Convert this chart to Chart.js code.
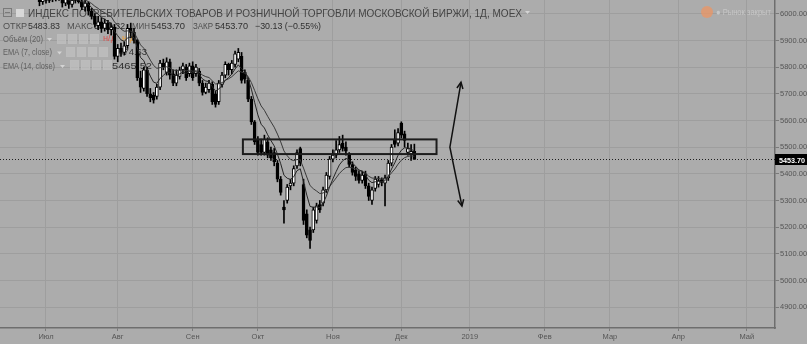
<!DOCTYPE html>
<html>
<head>
<meta charset="utf-8">
<script src="https://cdn.jsdelivr.net/npm/chart.js@4.4.1/dist/chart.umd.min.js"></script>
<style>
    html, body { margin: 0; padding: 0; background: #acacac; overflow: hidden; }
    canvas { display: block; }
</style>
</head>
<body>
<canvas id="chart" width="807" height="344"></canvas>
<script>
// daily bars, bar 0 = first trading day of July 2018
const firstBar = -14;
const opens = [6090, 6110, 6095, 6115, 6100, 6085, 6105, 6090, 6075, 6095, 6080, 6070, 6060, 6045,
    6060, 6050, 6065, 6055, 6070, 6060, 6040, 6055, 6035, 6050, 6060, 6045, 6025, 6040, 6010, 5990,
    5955, 5970, 5945, 5965, 5940, 5950, 5840, 5870, 5855, 5880, 5945, 5930, 5900, 5760, 5720, 5790,
    5700, 5695, 5690, 5725, 5815, 5780, 5820, 5775, 5740, 5765, 5790, 5800, 5775, 5805, 5775, 5785,
    5740, 5705, 5715, 5735, 5700, 5670, 5735, 5770, 5810, 5790, 5810, 5830, 5840, 5780, 5750, 5680,
    5595, 5530, 5510, 5480, 5520, 5490, 5480, 5440, 5380, 5275, 5300, 5355, 5365, 5430, 5495, 5360,
    5250, 5190, 5190, 5225, 5285, 5290, 5340, 5390, 5455, 5470, 5490, 5515, 5500, 5470, 5435, 5415,
    5400, 5375, 5400, 5355, 5300, 5345, 5360, 5378, 5365, 5385, 5440, 5530, 5515, 5590, 5550, 5480,
    5475, 5483.83];
const closes = [6110, 6095, 6115, 6100, 6085, 6105, 6090, 6075, 6095, 6080, 6070, 6062, 6045, 6060,
    6050, 6065, 6055, 6070, 6060, 6040, 6055, 6035, 6050, 6060, 6045, 6025, 6040, 6010, 5990, 5960,
    5970, 5945, 5965, 5940, 5950, 5840, 5870, 5855, 5880, 5945, 5930, 5900, 5760, 5725, 5790, 5700,
    5685, 5676, 5725, 5815, 5800, 5820, 5770, 5740, 5770, 5790, 5805, 5760, 5805, 5760, 5800, 5740,
    5705, 5725, 5740, 5670, 5660, 5740, 5770, 5810, 5790, 5815, 5850, 5855, 5750, 5755, 5680, 5595,
    5520, 5480, 5480, 5530, 5470, 5460, 5445, 5380, 5330, 5265, 5350, 5365, 5420, 5480, 5440, 5225,
    5170, 5150, 5265, 5280, 5265, 5340, 5395, 5455, 5470, 5490, 5510, 5495, 5485, 5435, 5405, 5390,
    5375, 5395, 5355, 5315, 5340, 5380, 5375, 5368, 5385, 5440, 5500, 5510, 5555, 5545, 5525, 5495,
    5483.83, 5453.70];
const highs = [6125, 6120, 6130, 6125, 6110, 6115, 6112, 6100, 6105, 6100, 6090, 6085, 6070, 6075,
    6075, 6080, 6085, 6085, 6080, 6070, 6065, 6065, 6060, 6075, 6070, 6055, 6050, 6045, 6020, 6000,
    5990, 5985, 5980, 5975, 5965, 5960, 5885, 5890, 5895, 5960, 5965, 5945, 5905, 5785, 5800, 5800,
    5720, 5705, 5735, 5825, 5830, 5835, 5830, 5790, 5790, 5800, 5815, 5810, 5815, 5820, 5810, 5795,
    5750, 5740, 5750, 5745, 5710, 5750, 5780, 5820, 5815, 5825, 5860, 5870, 5855, 5790, 5760, 5690,
    5600, 5540, 5530, 5545, 5535, 5500, 5495, 5450, 5390, 5300, 5360, 5380, 5430, 5490, 5500, 5380,
    5265, 5200, 5275, 5290, 5300, 5350, 5405, 5465, 5490, 5525, 5540, 5545, 5520, 5480, 5445, 5425,
    5410, 5410, 5410, 5365, 5350, 5390, 5390, 5385, 5395, 5450, 5510, 5565, 5570, 5595, 5560, 5515,
    5510, 5511.32];
const lows = [6080, 6085, 6088, 6090, 6075, 6078, 6080, 6068, 6066, 6070, 6062, 6056, 6030, 6035,
    6040, 6042, 6045, 6048, 6050, 6025, 6030, 6020, 6025, 6040, 6040, 6015, 6010, 5995, 5980, 5950,
    5940, 5930, 5935, 5925, 5920, 5830, 5820, 5840, 5845, 5870, 5910, 5890, 5750, 5705, 5710, 5690,
    5670, 5665, 5680, 5715, 5790, 5770, 5755, 5730, 5730, 5755, 5775, 5750, 5765, 5750, 5765, 5730,
    5695, 5700, 5705, 5660, 5650, 5660, 5725, 5760, 5770, 5775, 5800, 5820, 5740, 5740, 5670, 5585,
    5510, 5470, 5470, 5470, 5460, 5450, 5430, 5370, 5320, 5215, 5290, 5340, 5355, 5420, 5430, 5210,
    5160, 5120, 5180, 5215, 5255, 5280, 5330, 5380, 5445, 5460, 5480, 5485, 5470, 5425, 5395, 5375,
    5365, 5365, 5345, 5300, 5285, 5335, 5350, 5355, 5280, 5375, 5430, 5500, 5505, 5535, 5500, 5470,
    5450, 5453.70];

const monthStartBars = [0, 22, 45, 65, 88, 109, 130, 153, 173, 194, 215];
const monthLabels = ['Июл', 'Авг', 'Сен', 'Окт', 'Ноя', 'Дек', '2019', 'Фев', 'Мар', 'Апр', 'Май'];
const priceTicks = [4900, 5000, 5100, 5200, 5300, 5400, 5500, 5600, 5700, 5800, 5900, 6000];

// drawings on the chart, in bar / price units
const zoneBars = [60.4, 119.8];
const zonePrices = [5474, 5529];
const arrowBars = [127.3, 123.9, 127.6];
const arrowPrices = [5743, 5500, 5279];

const ema = function (values, n) {
    const k = 2 / (n + 1);
    let prev = values[0];
    return values.map(v => (prev = v * k + prev * (1 - k)));
};

const ema7 = ema(closes, 7);
const ema14 = ema(closes, 14);
const lastClose = closes[closes.length - 1];

const bodyData = opens.map((o, k) => ({ x: firstBar + k, y: [o, closes[k]] }));
const wickData = lows.map((l, k) => ({ x: firstBar + k, y: [l, highs[k]] }));
const bodyColors = opens.map((o, k) => closes[k] >= o ? '#ffffff' : '#000000');

const fitText = function (ctx, text, x, y, w, size, color, weight) {
    ctx.save();
    ctx.font = (weight || 'normal') + ' ' + size + 'px "Liberation Sans", Arial, sans-serif';
    const m = ctx.measureText(text).width;
    ctx.translate(x, y);
    ctx.scale(w / m, 1);
    ctx.fillStyle = color;
    ctx.textBaseline = 'alphabetic';
    ctx.textAlign = 'left';
    ctx.fillText(text, 0, 0);
    ctx.restore();
};

const iconBoxes = function (ctx, x, y) {
    for (let n = 0; n < 4; n++) {
        ctx.fillStyle = 'rgba(196,196,196,0.6)';
        ctx.fillRect(x + n * 11, y, 9, 10);
        ctx.strokeStyle = '#bcbcbc';
        ctx.lineWidth = 1;
        ctx.strokeRect(x + n * 11 + 0.5, y + 0.5, 8, 9);
    }
};

const dropArrow = function (ctx, x, y) {
    ctx.fillStyle = '#d4d4d4';
    ctx.beginPath();
    ctx.moveTo(x, y);
    ctx.lineTo(x + 5, y);
    ctx.lineTo(x + 2.5, y + 3);
    ctx.closePath();
    ctx.fill();
};

const backgroundPlugin = {
    id: 'background',
    beforeDraw(chart) {
        const ctx = chart.ctx;
        ctx.save();
        ctx.fillStyle = '#acacac';
        ctx.fillRect(0, 0, chart.width, chart.height);
        ctx.restore();
    }
};

const legendPlugin = {
    id: 'tvLegend',
    beforeDatasetsDraw(chart) {
        const ctx = chart.ctx;
        ctx.save();
        // header icons
        ctx.strokeStyle = '#7a7a7a';
        ctx.lineWidth = 1;
        ctx.strokeRect(3.5, 8.5, 8, 8);
        ctx.beginPath();
        ctx.moveTo(5, 12.5);
        ctx.lineTo(10, 12.5);
        ctx.stroke();
        ctx.fillStyle = '#d8d8d8';
        ctx.fillRect(16, 9, 8, 8);

        fitText(ctx, 'ИНДЕКС ПОТРЕБИТЕЛЬСКИХ ТОВАРОВ И РОЗНИЧНОЙ ТОРГОВЛИ МОСКОВСКОЙ БИРЖИ, 1Д, MOEX', 28, 17, 494, 11, '#444444');
        dropArrow(ctx, 525, 11);

        fitText(ctx, 'ОТКР', 3, 28.5, 24, 9, '#505050');
        fitText(ctx, '5483.83', 28, 28.5, 32, 9, '#303030');
        fitText(ctx, 'МАКС', 67, 28.5, 26, 9, '#505050');
        fitText(ctx, '5511.32', 94, 28.5, 31, 9, '#303030');
        fitText(ctx, 'МИН', 132, 28.5, 18, 9, '#505050');
        fitText(ctx, '5453.70', 151, 28.5, 34, 9, '#303030');
        fitText(ctx, 'ЗАКР', 193, 28.5, 20, 9, '#505050');
        fitText(ctx, '5453.70', 215, 28.5, 33, 9, '#303030');
        fitText(ctx, '−30.13 (−0.55%)', 255, 28.5, 66, 9, '#303030');

        fitText(ctx, 'Объём (20)', 3, 41.5, 40, 9, '#606060');
        dropArrow(ctx, 47, 38);
        iconBoxes(ctx, 57, 34);
        fitText(ctx, 'н/д', 103, 41, 13, 9, '#d9534f');
        fitText(ctx, 'н/д', 122, 41, 13, 9, '#f0a030');

        fitText(ctx, 'EMA (7, close)', 3, 55, 49, 9, '#606060');
        dropArrow(ctx, 57, 51.5);
        iconBoxes(ctx, 66, 47);
        fitText(ctx, '5474.63', 113, 55, 34, 9, '#303030');

        fitText(ctx, 'EMA (14, close)', 3, 68.5, 52, 9, '#606060');
        dropArrow(ctx, 60, 65);
        iconBoxes(ctx, 70, 60);
        fitText(ctx, '5465.52', 112, 68.5, 40, 9, '#303030');

        // market status
        ctx.fillStyle = 'rgba(236,150,100,0.75)';
        ctx.beginPath();
        ctx.arc(707, 12, 6, 0, Math.PI * 2);
        ctx.fill();
        fitText(ctx, '● Рынок закрыт', 716, 15, 55, 8.5, '#c6c6c6');
        ctx.restore();
    }
};

const drawingsPlugin = {
    id: 'tvDrawings',
    afterDatasetsDraw(chart) {
        const ctx = chart.ctx;
        const xs = chart.scales.x;
        const ys = chart.scales.y;
        const area = chart.chartArea;
        ctx.save();

        // horizontal zone
        const x1 = xs.getPixelForValue(zoneBars[0]);
        const x2 = xs.getPixelForValue(zoneBars[1]);
        const y1 = ys.getPixelForValue(zonePrices[1]);
        const y2 = ys.getPixelForValue(zonePrices[0]);
        ctx.strokeStyle = '#1c1c1c';
        ctx.lineWidth = 2;
        ctx.strokeRect(x1, y1, x2 - x1, y2 - y1);

        // up / down arrows
        const pts = arrowBars.map((b, k) => [xs.getPixelForValue(b), ys.getPixelForValue(arrowPrices[k])]);
        ctx.lineWidth = 1.5;
        ctx.strokeStyle = '#111';
        ctx.beginPath();
        ctx.moveTo(pts[0][0], pts[0][1]);
        ctx.lineTo(pts[1][0], pts[1][1]);
        ctx.lineTo(pts[2][0], pts[2][1]);
        ctx.stroke();
        const head = function (from, to) {
            const a = Math.atan2(to[1] - from[1], to[0] - from[0]);
            ctx.beginPath();
            ctx.moveTo(to[0] - 7 * Math.cos(a - 0.45), to[1] - 7 * Math.sin(a - 0.45));
            ctx.lineTo(to[0], to[1]);
            ctx.lineTo(to[0] - 7 * Math.cos(a + 0.45), to[1] - 7 * Math.sin(a + 0.45));
            ctx.stroke();
        };
        head(pts[1], pts[0]);
        head(pts[1], pts[2]);

        // last price line
        const py = Math.round(ys.getPixelForValue(lastClose)) + 0.5;
        ctx.lineWidth = 1;
        ctx.strokeStyle = '#202020';
        ctx.setLineDash([1, 2]);
        ctx.beginPath();
        ctx.moveTo(area.left, py);
        ctx.lineTo(area.right, py);
        ctx.stroke();
        ctx.setLineDash([]);
        ctx.restore();
    },
    afterDraw(chart) {
        const ctx = chart.ctx;
        const ys = chart.scales.y;
        const area = chart.chartArea;
        const py = Math.round(ys.getPixelForValue(lastClose));
        ctx.save();
        ctx.fillStyle = '#000';
        ctx.fillRect(area.right, py - 5, chart.width - area.right, 11);
        fitText(ctx, lastClose.toFixed(2), area.right + 4, py + 3.5, 26, 8, '#ffffff', 'bold');
        ctx.restore();
    }
};

new Chart(document.getElementById('chart'), {
    type: 'bar',
    data: {
        datasets: [
            {
                type: 'line',
                data: ema7.map((v, k) => ({ x: firstBar + k, y: v })),
                borderColor: '#262626',
                borderWidth: 1,
                pointRadius: 0,
                tension: 0,
                order: 0
            },
            {
                type: 'line',
                data: ema14.map((v, k) => ({ x: firstBar + k, y: v })),
                borderColor: '#3a3a3a',
                borderWidth: 1,
                pointRadius: 0,
                tension: 0,
                order: 1
            },
            {
                data: bodyData,
                backgroundColor: bodyColors,
                borderColor: '#000',
                borderWidth: 1,
                borderSkipped: false,
                barThickness: 3,
                grouped: false,
                order: 2
            },
            {
                data: wickData,
                backgroundColor: '#000',
                barThickness: 1,
                grouped: false,
                order: 3
            }
        ]
    },
    options: {
        responsive: false,
        animation: false,
        devicePixelRatio: 1,
        layout: { padding: 0 },
        plugins: {
            legend: { display: false },
            tooltip: { enabled: false }
        },
        scales: {
            x: {
                type: 'linear',
                min: -14.11,
                max: 223.63,
                offset: false,
                grid: { color: '#9e9e9e', offset: false, tickLength: 3, tickColor: '#7a7a7a' },
                border: { color: '#6e6e6e', width: 1.5 },
                ticks: {
                    autoSkip: false,
                    maxRotation: 0,
                    padding: 1,
                    color: '#555',
                    font: { family: '"Liberation Sans", Arial, sans-serif', size: 7.5 },
                    callback: (v, i) => monthLabels[i]
                },
                afterBuildTicks: s => { s.ticks = monthStartBars.map(v => ({ value: v })); },
                afterFit: s => {
                    s.height = 16;
                    s.paddingLeft = 0;
                    s.paddingRight = 0;
                }
            },
            y: {
                position: 'right',
                min: 4822,
                max: 6051.6,
                grid: { color: '#9e9e9e', tickLength: 4, tickColor: '#7a7a7a' },
                border: { color: '#6e6e6e', width: 1.5 },
                ticks: {
                    padding: 1,
                    color: '#555',
                    font: { family: '"Liberation Sans", Arial, sans-serif', size: 7.5 },
                    callback: v => v.toFixed(2)
                },
                afterBuildTicks: s => { s.ticks = priceTicks.map(v => ({ value: v })); },
                afterFit: s => {
                    s.width = 32;
                    s.paddingTop = 0;
                    s.paddingBottom = 0;
                }
            }
        }
    },
    plugins: [backgroundPlugin, legendPlugin, drawingsPlugin]
});
</script>
</body>
</html>
